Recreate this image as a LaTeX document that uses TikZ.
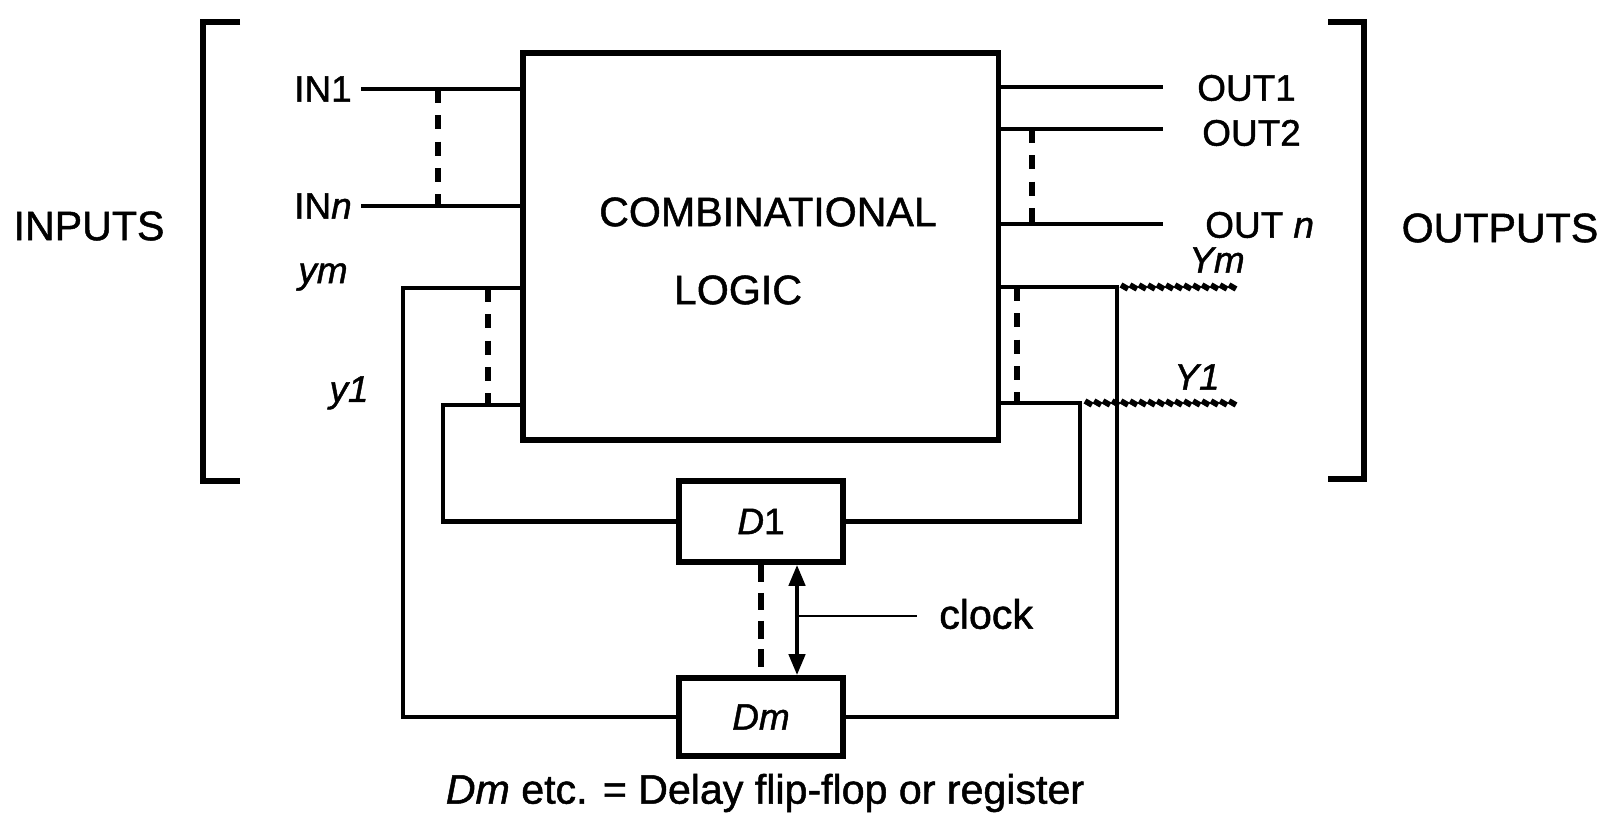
\documentclass[tikz,border=0pt]{standalone}
\usepackage{fontspec}
\setmainfont{Liberation Sans}[FakeBold=1.2]
\usetikzlibrary{arrows.meta}

\begin{document}
\begin{tikzpicture}[x=0.01cm, y=-0.01cm, line width=1.3pt,
  every node/.style={font=\fontsize{10.5}{12}\selectfont, inner sep=0pt},
  bigtext/.style={font=\fontsize{11.7}{14}\selectfont},
  blockbox/.style={draw, line width=1.5pt, inner sep=0pt},
  dots/.style={line width=1.7pt, dash pattern=on 4pt off 3.5pt},
  rope/.style={line width=1.6pt}]
  \useasboundingbox (0,0) rectangle (1614,813);

  % logic block and the two delay elements
  \node[blockbox, minimum width=4.75cm, minimum height=3.87cm] (logic) at (760.5,246.5) {};
  \node[bigtext] (comb) at (768,212) {COMBINATIONAL};
  \node[bigtext] (lgc) at (738,290) {LOGIC};
  \node[blockbox, minimum width=1.64cm, minimum height=0.81cm] (d1) at (761,521.5) {\textit{D}1};
  \node[blockbox, minimum width=1.64cm, minimum height=0.78cm] (dm) at (761,717) {\textit{Dm}};

  % brackets and side titles
  \draw[line width=1.5pt] (240,22) -- (203,22) -- (203,481) -- (240,481);
  \draw[line width=1.5pt] (1328,22) -- (1364,22) -- (1364,479) -- (1328,479);
  \node[bigtext] (inputs) at (89,226) {INPUTS};
  \node[bigtext] (outputs) at (1500,228) {OUTPUTS};

  % inputs
  \node[anchor=east] (in1) at (354,89) {IN1};
  \node[anchor=east] (inn) at (354,206) {IN\textit{n}};
  \draw ([xshift=2pt]in1.east) -- (in1.east -| logic.west);
  \draw ([xshift=2pt]inn.east) -- (inn.east -| logic.west);
  \draw[dots] (438,0 |- in1.east) -- (438,0 |- inn.east);

  % outputs
  \coordinate (o1) at (1163,87);
  \coordinate (o2) at (1163,129);
  \coordinate (on) at (1163,224);
  \node[anchor=west] (out1) at (1195,88) {OUT1};
  \node[anchor=west] (out2) at (1200,133) {OUT2};
  \node[anchor=west] (outn) at (1203,225) {OUT \textit{n}};
  \foreach \o in {o1,o2,on} \draw (logic.east |- \o) -- (\o);
  \draw[dots] (1032,0 |- o2) -- (1032,0 |- on);

  % feedback through Dm (outer) and D1 (inner)
  \coordinate (ym) at (403,288);
  \coordinate (y1) at (443,405);
  \coordinate (Ym) at (1117,287);
  \coordinate (Y1) at (1080,403);
  \draw (logic.west |- ym) -- (ym) |- (dm.west);
  \draw (logic.west |- y1) -- (y1) |- (d1.west);
  \draw (logic.east |- Ym) -- (Ym) |- (dm.east);
  \draw (logic.east |- Y1) -- (Y1) |- (d1.east);
  \draw[dots] (488,0 |- ym) -- (488,0 |- y1);
  \draw[dots] (1017,0 |- Ym) -- (1017,0 |- Y1);
  \foreach \x in {1121,1130,...,1229} \draw[rope] (\x,285) -- ++(7,4);
  \foreach \x in {1085,1094,...,1229} \draw[rope] (\x,401) -- ++(7,4);
  \node[font=\fontsize{10.5}{12}\selectfont\itshape] (lym) at (323,277) {ym};
  \node[font=\fontsize{10.5}{12}\selectfont\itshape] (ly1) at (349,393) {y1};
  \node[font=\fontsize{10.5}{12}\selectfont\itshape] (lYm) at (1217,260) {Ym};
  \node[font=\fontsize{10.5}{12}\selectfont\itshape] (lY1) at (1197,377) {Y1};

  % clock
  \draw[dots, dash pattern=on 5pt off 3pt] (d1.south) -- (dm.north);
  \draw[{Triangle[length=6pt,width=4.5pt]}-{Triangle[length=6pt,width=4.5pt]}]
    ([xshift=0.36cm]d1.south) -- ([xshift=0.36cm]dm.north);
  \coordinate (ck) at (797,616);
  \node[bigtext, anchor=west] (clk) at (937,614) {clock};
  \draw[line width=0.5pt] (ck) -- ([xshift=-0.2cm]clk.west |- ck);

  \node[bigtext] (note) at (765,793) {\textit{Dm} etc. = Delay flip-flop or register};
\end{tikzpicture}
\end{document}
